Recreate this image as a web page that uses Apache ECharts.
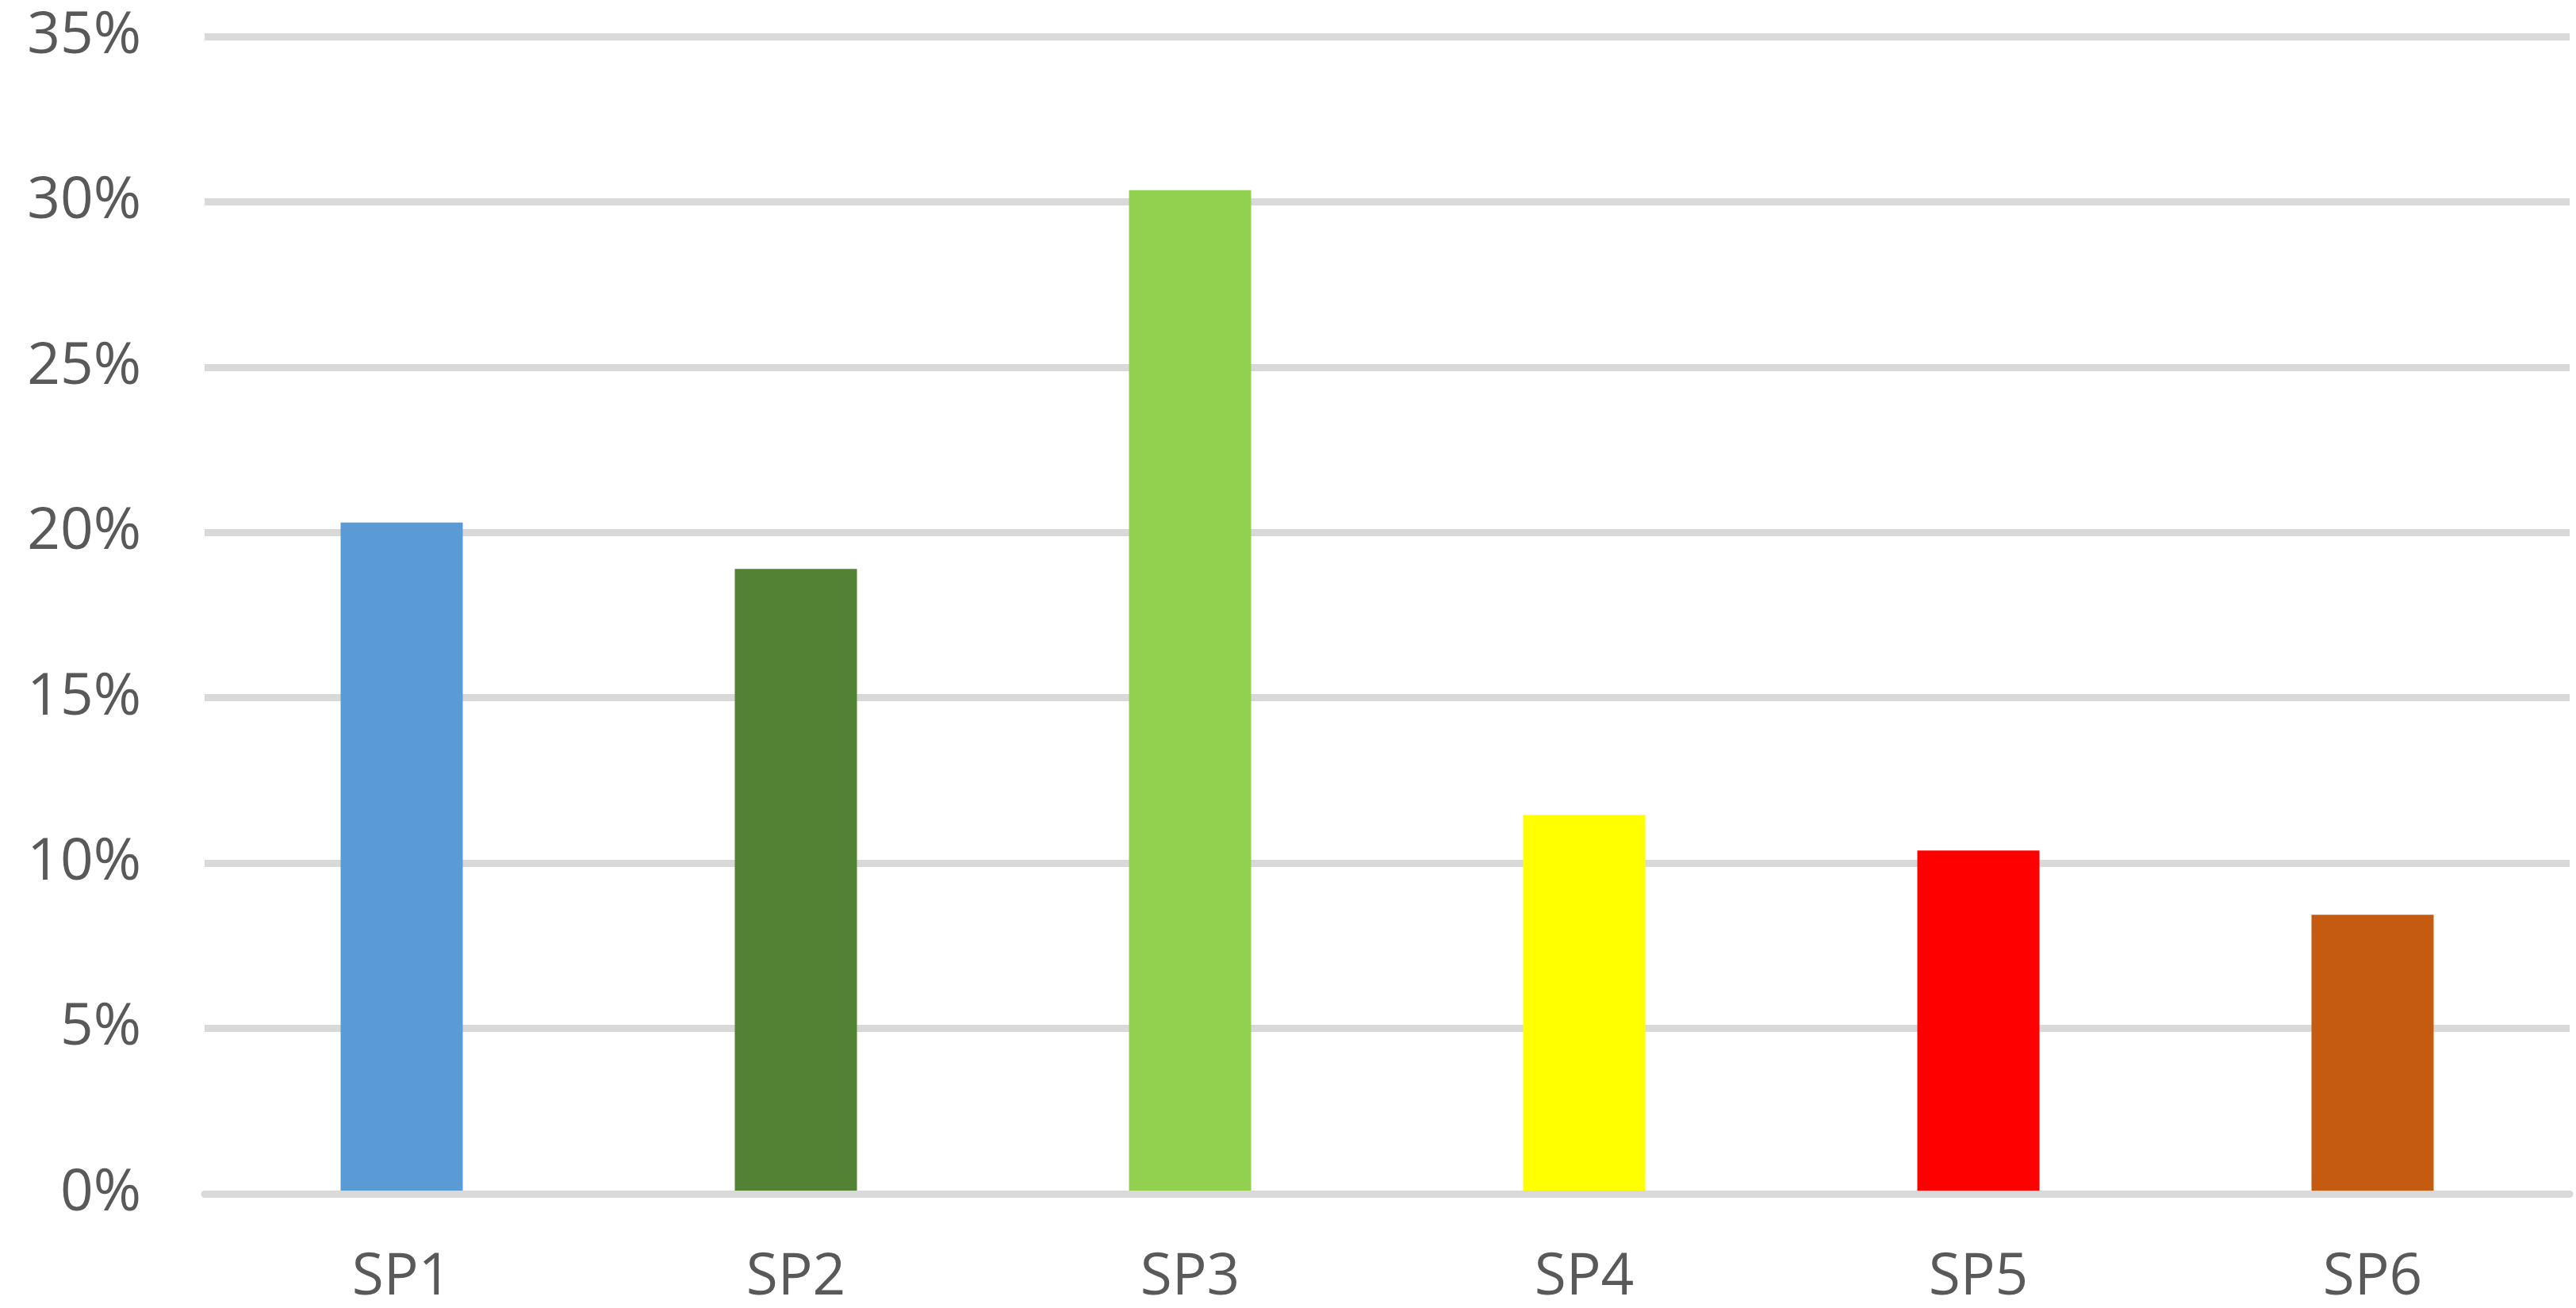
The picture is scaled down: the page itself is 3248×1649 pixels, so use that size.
<!DOCTYPE html>
<html>
<head>
<meta charset="utf-8">
<script src="https://cdn.jsdelivr.net/npm/echarts@6/dist/echarts.min.js"></script>
<style>
html,body{margin:0;padding:0;background:#fff;}
#chart{width:3248px;height:1649px;}
</style>
</head>
<body>
<div id="chart"></div>
<script>
const categories = ['SP1', 'SP2', 'SP3', 'SP4', 'SP5', 'SP6'];
const values = [20.3, 18.9, 30.35, 11.46, 10.38, 8.44];
const barColors = ['#5B9BD5', '#548235', '#92D050', '#FFFF00', '#FF0000', '#C55A11'];
const yTicks = { min: 0, max: 35, interval: 5 };

const chart = echarts.init(document.getElementById('chart'), null, { renderer: 'canvas' });
const textStyle = { color: '#595959', fontFamily: '"Open Sans", "Noto Sans", sans-serif', fontSize: 73 };
chart.setOption({
  animation: false,
  backgroundColor: '#ffffff',
  grid: { left: 258, right: 8, top: 46, bottom: 144, containLabel: false },
  xAxis: {
    type: 'category',
    data: categories,
    z: 3,
    axisLine: { show: true, lineStyle: { color: '#d9d9d9', width: 9 } },
    axisTick: { show: false },
    axisLabel: Object.assign({ margin: 70 }, textStyle),
    splitLine: { show: false }
  },
  yAxis: {
    type: 'value',
    min: yTicks.min,
    max: yTicks.max,
    interval: yTicks.interval,
    axisLine: { show: false },
    axisTick: { show: false },
    axisLabel: Object.assign({ margin: 80, formatter: '{value}%' }, textStyle),
    splitLine: { show: true, lineStyle: { color: '#d9d9d9', width: 9 } }
  },
  series: [{
    type: 'bar',
    barWidth: 154,
    data: values.map((v, i) => ({ value: v, itemStyle: { color: barColors[i] } }))
  }]
});
</script>
</body>
</html>
